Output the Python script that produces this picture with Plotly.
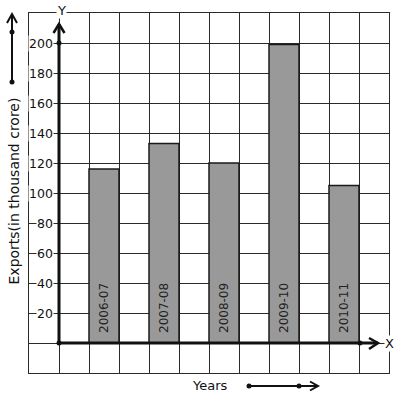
import plotly.graph_objects as go

# ---- data ----
years = ["2006-07", "2007-08", "2008-09", "2009-10", "2010-11"]
exports = [116, 133, 120, 199, 105]
y_ticks = [20, 40, 60, 80, 100, 120, 140, 160, 180, 200]

# ---- geometry (pixels) ----
W, H = 397, 399
L, R, T, B = 29, 8, 13, 26          # plot area = the grid
PW, PH = W - L - R, H - T - B       # 360 x 360
X_RANGE = [-1, 11]
Y_RANGE = [-20, 220]

def dx(p):   # pixel -> data x
    return X_RANGE[0] + (p - L) / PW * (X_RANGE[1] - X_RANGE[0])

def dy(p):   # pixel -> data y
    return Y_RANGE[1] - (p - T) / PH * (Y_RANGE[1] - Y_RANGE[0])

def pxp(p):  # pixel -> paper x
    return (p - L) / PW

def pyp(p):  # pixel -> paper y
    return (H - B - p) / PH

FONT = "DejaVu Sans"
INK = "#111111"

bar_x = [1.5 + 2 * i for i in range(len(years))]

fig = go.Figure()
fig.add_trace(go.Bar(
    x=bar_x, y=exports, width=1,
    marker=dict(color="#999999", line=dict(color="#1a1a1a", width=1.5)),
    hoverinfo="skip",
))

shapes = []
annotations = []

# y tick labels
for v in y_ticks:
    annotations.append(dict(
        x=dx(54), y=v, xref="x", yref="y", text=str(v), showarrow=False,
        xanchor="right", yanchor="middle", bgcolor="white", borderpad=0,
        font=dict(family=FONT, size=12.5, color=INK),
    ))

# bar labels (vertical, inside bars)
for xc, lab in zip(bar_x, years):
    annotations.append(dict(
        x=xc, y=0, xref="x", yref="y", text=lab, showarrow=False,
        textangle=-90, xanchor="center", yanchor="bottom", yshift=8,
        font=dict(family=FONT, size=12, color="#222222"),
    ))

# Y axis arrow
shapes.append(dict(type="line", xref="x", yref="y", x0=0, y0=0, x1=0, y1=dy(24),
                   line=dict(color=INK, width=3)))
shapes.append(dict(type="path", xref="x", yref="y",
                   path=f"M {dx(53.5)} {dy(33)} L {dx(59)} {dy(24)} L {dx(64.5)} {dy(33)}",
                   line=dict(color=INK, width=2.5)))
# X axis arrow
shapes.append(dict(type="line", xref="x", yref="y", x0=0, y0=0, x1=dx(378), y1=0,
                   line=dict(color=INK, width=3)))
shapes.append(dict(type="path", xref="x", yref="y",
                   path=f"M {dx(369)} {dy(338)} L {dx(378)} {dy(343)} L {dx(369)} {dy(349)}",
                   line=dict(color=INK, width=2.5)))

def dot(xp, yp, r=2.5):
    shapes.append(dict(type="circle", xref="paper", yref="paper",
                       x0=pxp(xp - r), x1=pxp(xp + r), y0=pyp(yp + r), y1=pyp(yp - r),
                       fillcolor=INK, line=dict(width=0)))

dot(59, 343)
dot(59, 43)
dot(360, 343)

def label(xp, yp, text, size=13, angle=0, bg=None):
    d = dict(x=pxp(xp), y=pyp(yp), xref="paper", yref="paper", text=text,
             showarrow=False, xanchor="center", yanchor="middle", textangle=angle,
             borderpad=0, font=dict(family=FONT, size=size, color=INK))
    if bg:
        d["bgcolor"] = bg
    annotations.append(d)

# axis letters
label(61, 10, "Y", bg="white")
label(389, 343, "X", bg="white")

# left vertical arrow
shapes.append(dict(type="line", xref="paper", yref="paper", x0=pxp(12), y0=pyp(82),
                   x1=pxp(12), y1=pyp(14), line=dict(color=INK, width=2)))
shapes.append(dict(type="path", xref="paper", yref="paper",
                   path=f"M {pxp(7)} {pyp(23)} L {pxp(12)} {pyp(14)} L {pxp(17)} {pyp(23)}",
                   line=dict(color=INK, width=2)))
dot(12, 32)
dot(12, 82)

# bottom horizontal arrow
shapes.append(dict(type="line", xref="paper", yref="paper", x0=pxp(249), y0=pyp(386),
                   x1=pxp(318), y1=pyp(386), line=dict(color=INK, width=2)))
shapes.append(dict(type="path", xref="paper", yref="paper",
                   path=f"M {pxp(310)} {pyp(381.5)} L {pxp(318)} {pyp(386)} L {pxp(310)} {pyp(390.5)}",
                   line=dict(color=INK, width=2)))
dot(249, 386)
dot(299, 386)

# titles
label(210, 385.5, "Years", size=13)
label(13, 191.5, "Exports(in thousand crore)", size=14, angle=-90)

fig.update_layout(
    width=W, height=H, margin=dict(l=L, r=R, t=T, b=B),
    paper_bgcolor="white", plot_bgcolor="white", showlegend=False,
    shapes=shapes, annotations=annotations,
)
fig.update_xaxes(range=X_RANGE, tick0=0, dtick=1, showgrid=True, gridcolor="#2a2a2a",
                 gridwidth=1, zeroline=False, showticklabels=False, ticks="",
                 showline=True, mirror=True, linecolor="#2a2a2a", linewidth=1)
fig.update_yaxes(range=Y_RANGE, tick0=0, dtick=20, showgrid=True, gridcolor="#2a2a2a",
                 gridwidth=1, zeroline=False, showticklabels=False, ticks="",
                 showline=True, mirror=True, linecolor="#2a2a2a", linewidth=1)

fig.write_html("out.html",
               config={"displayModeBar": False, "staticPlot": True},
               post_script="document.body.style.margin='0';document.body.style.overflow='hidden';")
